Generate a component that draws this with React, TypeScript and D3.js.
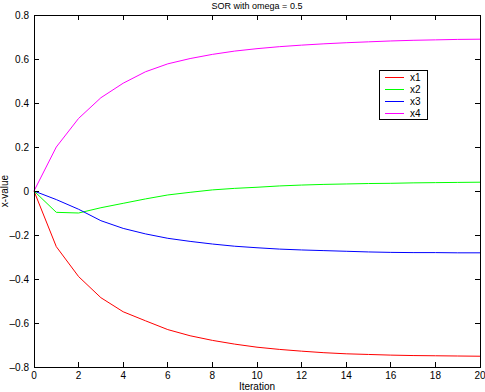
import React from "react";
import * as d3 from "d3";

const iterations = d3.range(0, 21);
const x1 = [0, -0.253, -0.389, -0.485, -0.549, -0.59, -0.63, -0.658, -0.679, -0.696, -0.71, -0.72, -0.728, -0.735, -0.74, -0.743, -0.746, -0.748, -0.749, -0.75, -0.751];
const x2 = [0, -0.097, -0.1, -0.076, -0.056, -0.036, -0.018, -0.006, 0.005, 0.012, 0.017, 0.023, 0.027, 0.03, 0.032, 0.034, 0.035, 0.037, 0.038, 0.039, 0.04];
const x3 = [0, -0.039, -0.083, -0.135, -0.17, -0.195, -0.215, -0.229, -0.241, -0.251, -0.258, -0.264, -0.268, -0.271, -0.274, -0.277, -0.279, -0.28, -0.28, -0.281, -0.281];
const x4 = [0, 0.2, 0.33, 0.424, 0.49, 0.542, 0.578, 0.602, 0.621, 0.636, 0.647, 0.656, 0.663, 0.669, 0.674, 0.678, 0.682, 0.685, 0.687, 0.689, 0.69];

const seriesNames = ["x1", "x2", "x3", "x4"];
const seriesData = [x1, x2, x3, x4];
const colors = ["#ff0000", "#00ff00", "#0000ff", "#ff00ff"];
const xTicks = [0, 2, 4, 6, 8, 10, 12, 14, 16, 18, 20];
const yTicks = [-0.8, -0.6, -0.4, -0.2, 0, 0.2, 0.4, 0.6, 0.8];

const W = 485, H = 392;
const L = 34, R = 480, T = 15, B = 367;
const FONT = "'Liberation Sans', Arial, Helvetica, sans-serif";

export default function App() {
  const x = d3.scaleLinear().domain([0, 20]).range([L, R]);
  const y = d3.scaleLinear().domain([-0.8, 0.8]).range([B, T]);
  const line = d3.line<number>().x((_, i) => x(iterations[i])).y((d) => y(d));
  const fmt = (v: number) => {
    if (Math.abs(v) < 1e-9) return "0";
    const s = Math.abs(v).toFixed(1);
    return (v < 0 ? "\u2013" : "") + s;
  };
  const tl = 5;
  return (
    <svg width={W} height={H} style={{ position: "absolute", left: 0, top: 0, background: "#fff" }} fontFamily={FONT}>
      <rect x={0} y={0} width={W} height={H} fill="#fff" />
      {seriesData.map((d, i) => (
        <path key={i} d={line(d) || ""} fill="none" stroke={colors[i]} strokeWidth={1} />
      ))}
      <rect x={L} y={T} width={R - L} height={B - T} fill="none" stroke="#000" strokeWidth={1} shapeRendering="crispEdges" />
      {xTicks.map((t) => (
        <g key={"x" + t}>
          <line x1={x(t)} x2={x(t)} y1={B} y2={B - tl} stroke="#000" shapeRendering="crispEdges" />
          <line x1={x(t)} x2={x(t)} y1={T} y2={T + tl} stroke="#000" shapeRendering="crispEdges" />
          <text x={x(t)} y={379} fontSize={10} textAnchor="middle">{t}</text>
        </g>
      ))}
      {yTicks.map((t) => (
        <g key={"y" + t}>
          <line x1={L} x2={L + tl} y1={y(t)} y2={y(t)} stroke="#000" shapeRendering="crispEdges" />
          <line x1={R} x2={R - tl} y1={y(t)} y2={y(t)} stroke="#000" shapeRendering="crispEdges" />
          <text x={29} y={y(t) + 3.5} fontSize={10} textAnchor="end">{fmt(t)}</text>
        </g>
      ))}
      <text x={(L + R) / 2} y={9} fontSize={9} textAnchor="middle">SOR with omega = 0.5</text>
      <text x={(L + R) / 2} y={390} fontSize={10} textAnchor="middle">Iteration</text>
      <text transform={`translate(8,${(T + B) / 2}) rotate(-90)`} fontSize={10} textAnchor="middle">x-value</text>
      <rect x={379.5} y={70.5} width={48} height={49} fill="#fff" stroke="#000" strokeWidth={1} shapeRendering="crispEdges" />
      {seriesNames.map((n, i) => (
        <g key={n}>
          <line x1={385} x2={404} y1={77 + i * 12} y2={77 + i * 12} stroke={colors[i]} strokeWidth={1} shapeRendering="crispEdges" />
          <text x={410} y={80.5 + i * 12} fontSize={10}>{n}</text>
        </g>
      ))}
    </svg>
  );
}
